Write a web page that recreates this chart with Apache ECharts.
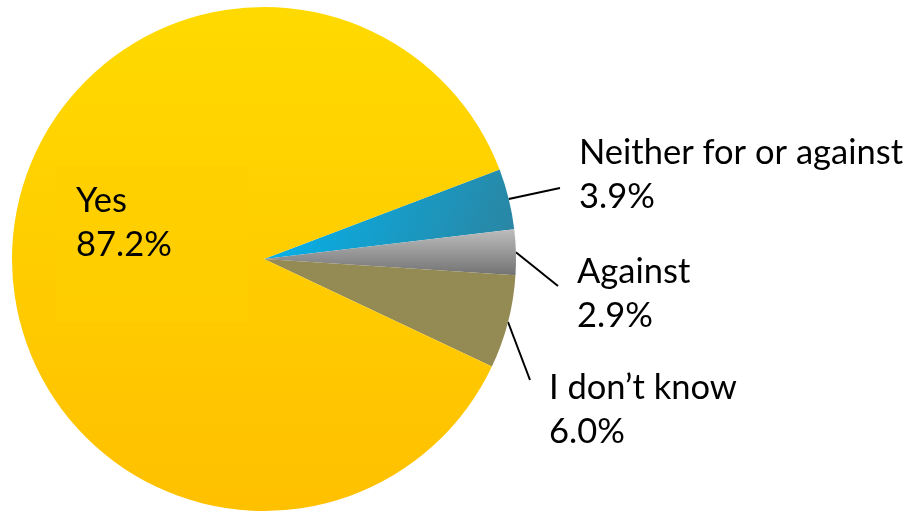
<!DOCTYPE html>
<html>
<head>
<meta charset="utf-8">
<script src="https://cdn.jsdelivr.net/npm/echarts@6/dist/echarts.min.js"></script>
<style>
  html, body { margin: 0; padding: 0; background: #ffffff; }
  #chart { width: 909px; height: 513px; }
</style>
</head>
<body>
<div id="chart"></div>
<script>
// Survey answers, in drawing order (clockwise from the top of the blue slice)
const categories = ['Neither for or against', 'Against', 'I don\u2019t know', 'Yes'];
const shares = [3.9, 2.9, 6.0, 87.2];

// Where each label's text block sits (left, top) and where its leader meets it
const labelSpots = [
  { x: 579, y: 131, lineEndDx: -19, lineEndDy: 57 },
  { x: 577, y: 250, lineEndDx: -19, lineEndDy: 36 },
  { x: 549, y: 366, lineEndDx: -19, lineEndDy: 14 },
  { x: 56, y: 166 }
];

const sliceFills = [
  { type: 'linear', x: 0, y: 0, x2: 1, y2: 1,
    colorStops: [{ offset: 0, color: '#00B6F2' }, { offset: 1, color: '#2C84A0' }] },
  { type: 'linear', x: 0, y: 0, x2: 0, y2: 1,
    colorStops: [{ offset: 0, color: '#BDBDBD' }, { offset: 1, color: '#737373' }] },
  '#948A54',
  { type: 'linear', x: 0, y: 0, x2: 0, y2: 1,
    colorStops: [{ offset: 0, color: '#FFDA00' }, { offset: 1, color: '#FFC000' }] }
];

const textFont = 'Lato';
const textSize = 34.5;
const textLine = 44;

const pieData = categories.map((name, i) => {
  const item = {
    name: name,
    value: shares[i],
    itemStyle: { color: sliceFills[i] }
  };
  if (name === 'Yes') {
    item.label = {
      position: 'inside',
      backgroundColor: {
        type: 'linear', x: 0, y: 0, x2: 0, y2: 1,
        colorStops: [{ offset: 0, color: '#FFD000' }, { offset: 1, color: '#FFCD00' }]
      },
      padding: [13, 20, 11, 20],
      width: 152,
      height: 132
    };
    item.labelLine = { show: false };
  }
  return item;
});

const chart = echarts.init(document.getElementById('chart'), null, { renderer: 'canvas' });

chart.setOption({
  backgroundColor: '#ffffff',
  animation: false,
  series: [{
    type: 'pie',
    center: [264, 259],
    radius: 252,
    startAngle: 20.8,
    clockwise: true,
    avoidLabelOverlap: false,
    minShowLabelAngle: 0,
    itemStyle: { borderWidth: 0 },
    emphasis: { disabled: true },
    label: {
      show: true,
      position: 'outside',
      color: '#000000',
      fontFamily: textFont,
      fontSize: textSize,
      lineHeight: textLine,
      align: 'left',
      formatter: p => p.name + '\n' + p.value.toFixed(1) + '%'
    },
    labelLine: {
      show: true,
      length: 20,
      length2: 0,
      lineStyle: { color: '#000000', width: 2 }
    },
    labelLayout: function (params) {
      const spot = labelSpots[params.dataIndex];
      const out = { x: spot.x, y: spot.y, align: 'left', verticalAlign: 'top' };
      if (spot.lineEndDx !== undefined && params.labelLinePoints) {
        out.labelLinePoints = [
          params.labelLinePoints[0],
          [spot.x + spot.lineEndDx, spot.y + spot.lineEndDy]
        ];
      }
      return out;
    },
    data: pieData
  }]
});
</script>
</body>
</html>
